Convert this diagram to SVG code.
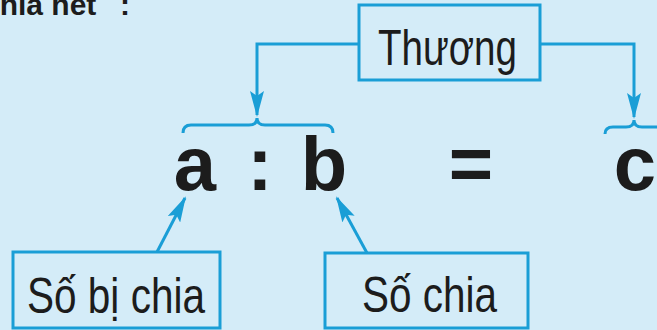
<svg xmlns="http://www.w3.org/2000/svg" width="657" height="330" viewBox="0 0 657 330">
<style>
.bg{fill:#d4ecf8}
.box{fill:#d4ecf8;stroke:#1a9ed6;stroke-width:3}
.ln{fill:none;stroke:#1a9ed6;stroke-width:3}
.lbl{font-family:"Liberation Sans",Arial,sans-serif;font-size:50px;fill:#1c1c1c}
.big{font-family:"Liberation Sans",Arial,sans-serif;font-size:76px;font-weight:bold;fill:#1c1c1c;text-anchor:middle}
.hd{font-family:"Liberation Sans",Arial,sans-serif;font-size:30px;font-weight:bold;fill:#1c1c1c}
</style>
<defs>
<marker id="ah" markerUnits="userSpaceOnUse" markerWidth="26" markerHeight="14" refX="24" refY="7" orient="auto">
<path d="M0,0 L26,7 L0,14 L5,7 z" fill="#1a9ed6"/>
</marker>
</defs>
<rect class="bg" x="0" y="0" width="657" height="330"/>
<text class="hd" x="-17" y="15">chia hết</text>
<text class="hd" x="120" y="15">:</text>
<g id="connectors">
<path class="ln" d="M359,44 H257 V115" marker-end="url(#ah)"/>
<path class="ln" d="M540,44 H634 V117" marker-end="url(#ah)"/>
<path class="ln" d="M157,252 L185,198" marker-end="url(#ah)"/>
<path class="ln" d="M367,253 L337,198" marker-end="url(#ah)"/>
<path class="ln" d="M183,133 Q183,125 191,125 L249,125 Q257,125 257,118 Q257,125 265,125 L325,125 Q333,125 333,133"/>
<path class="ln" d="M605,134 Q605,127 613,127 L626,127 Q634,127 634,120 Q634,127 642,127 L660,127"/>
</g>
<g id="thuong">
<rect class="box" x="359" y="5" width="181" height="75"/>
<text class="lbl" x="378" y="65" font-size="55" textLength="139" lengthAdjust="spacingAndGlyphs">Thương</text>
</g>
<g id="so-bi-chia">
<rect class="box" x="13" y="252" width="207" height="76"/>
<text class="lbl" x="27" y="313" textLength="178" lengthAdjust="spacingAndGlyphs">Số bị chia</text>
</g>
<g id="so-chia">
<rect class="box" x="325" y="253" width="203" height="75"/>
<text class="lbl" x="362" y="312" textLength="135" lengthAdjust="spacingAndGlyphs">Số chia</text>
</g>
<g id="expr">
<text class="big" x="195" y="190">a</text>
<text class="big" x="260" y="190">:</text>
<text class="big" x="324" y="190">b</text>
<text class="big" x="471" y="190">=</text>
<text class="big" x="635" y="190">c</text>
</g>
</svg>
